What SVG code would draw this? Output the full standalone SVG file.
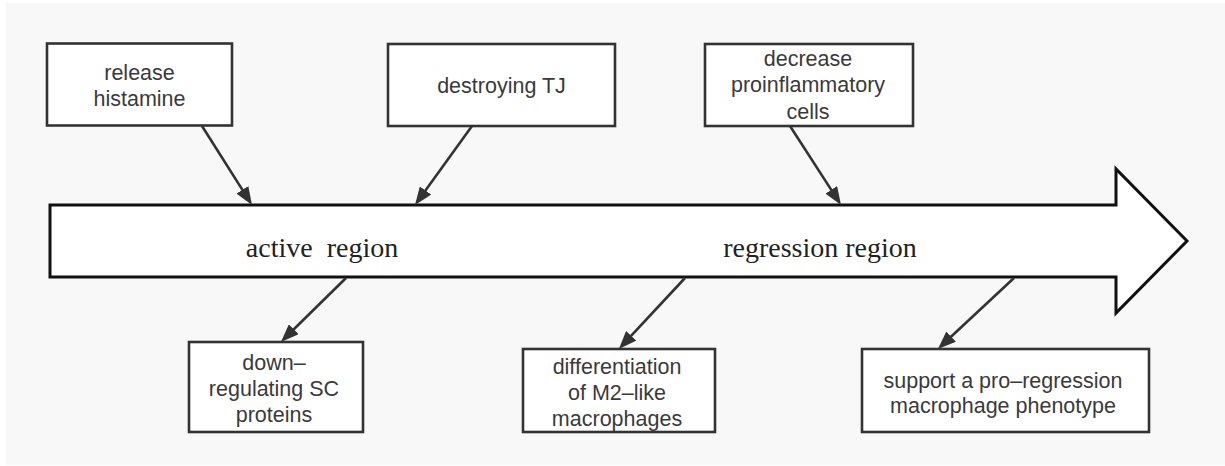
<svg xmlns="http://www.w3.org/2000/svg" width="1225" height="466" viewBox="0 0 1225 466">
  <style>
    .box { fill: #ffffff; stroke: #333333; stroke-width: 2.6; }
    .lbl { font-family: "Liberation Sans", Arial, sans-serif; font-size: 21.5px; fill: #3a3a3a; text-anchor: middle; }
    .region { font-family: "Liberation Serif", "Times New Roman", serif; font-size: 28px; fill: #222222; text-anchor: middle; white-space: pre; }
    .conn { stroke: #333333; stroke-width: 2.6; fill: none; marker-end: url(#ah); }
  </style>
  <defs>
    <marker id="ah" viewBox="0 0 18 14" refX="6" refY="7" markerWidth="18" markerHeight="14" markerUnits="userSpaceOnUse" orient="auto">
      <path d="M0,0 L18,7 L0,14 z" fill="#333333"/>
    </marker>
  </defs>
  <rect x="0" y="0" width="1225" height="466" fill="#ffffff"/>
  <rect x="6" y="3" width="1219" height="462" fill="#f8f8f8"/>

  <g id="timeline">
    <polygon points="50,205 1116,205 1116,169 1187,241 1116,313 1116,277 50,277" fill="#ffffff" stroke="#111111" stroke-width="3"/>
    <text class="region" x="322" y="257" xml:space="preserve">active  region</text>
    <text class="region" x="820" y="257">regression region</text>
  </g>

  <g id="n-release">
    <rect class="box" x="47" y="43.5" width="185" height="82"/>
    <text class="lbl" x="139.5" y="80">release</text>
    <text class="lbl" x="139.5" y="106">histamine</text>
  </g>
  <g id="n-destroying">
    <rect class="box" x="388" y="44" width="227" height="82"/>
    <text class="lbl" x="501.5" y="93">destroying TJ</text>
  </g>
  <g id="n-decrease">
    <rect class="box" x="705" y="44" width="208" height="82"/>
    <text class="lbl" x="808" y="66">decrease</text>
    <text class="lbl" x="808" y="92">proinflammatory</text>
    <text class="lbl" x="808" y="119">cells</text>
  </g>
  <g id="n-down">
    <rect class="box" x="189" y="342" width="174" height="90"/>
    <text class="lbl" x="274" y="370">down–</text>
    <text class="lbl" x="274" y="396">regulating SC</text>
    <text class="lbl" x="274" y="422">proteins</text>
  </g>
  <g id="n-diff">
    <rect class="box" x="523" y="349" width="192" height="83"/>
    <text class="lbl" x="617" y="374">differentiation</text>
    <text class="lbl" x="617" y="400">of M2–like</text>
    <text class="lbl" x="617" y="426">macrophages</text>
  </g>
  <g id="n-support">
    <rect class="box" x="862" y="349" width="287" height="83"/>
    <text class="lbl" x="1003" y="388">support a pro–regression</text>
    <text class="lbl" x="1003" y="413">macrophage phenotype</text>
  </g>

  <g id="connectors">
    <line class="conn" x1="202" y1="126" x2="245.6" y2="194.9"/>
    <line class="conn" x1="472" y1="126" x2="422.0" y2="195.3"/>
    <line class="conn" x1="790" y1="126" x2="834.5" y2="194.9"/>
    <line class="conn" x1="346" y1="278" x2="289.5" y2="333.5"/>
    <line class="conn" x1="685" y1="278" x2="627.1" y2="340.2"/>
    <line class="conn" x1="1014" y1="278" x2="946.7" y2="340.7"/>
  </g>
</svg>
